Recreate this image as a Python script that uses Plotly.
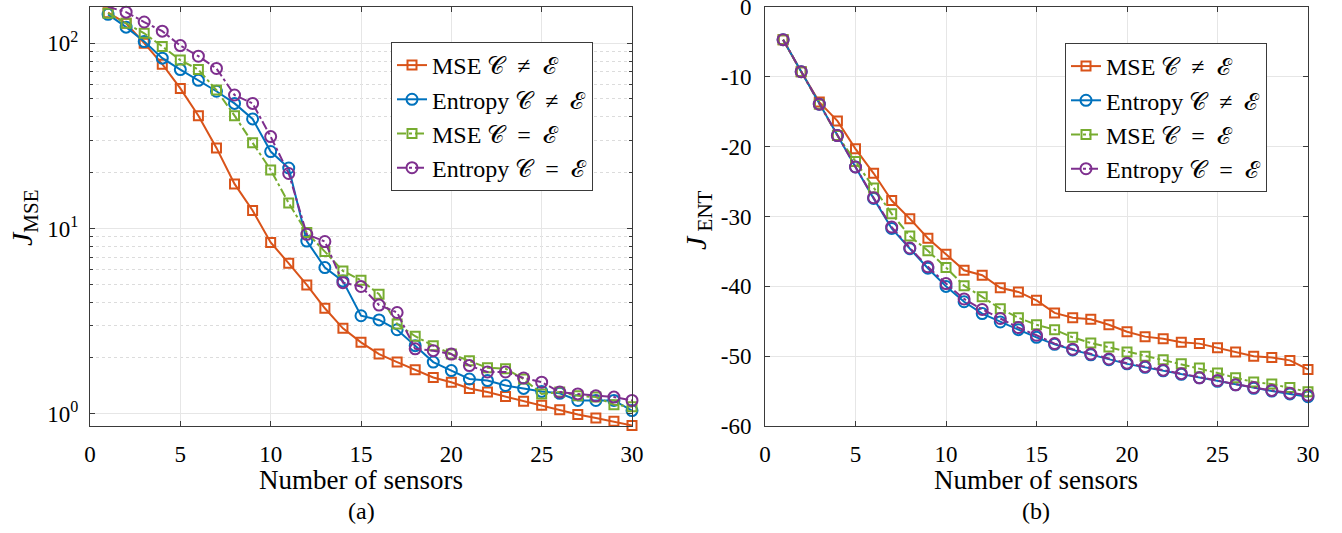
import plotly.graph_objects as go

n_sensors = list(range(1, 31))

# Left panel: J_MSE (log scale)
mse_neq = [146, 128, 100, 77, 57, 40.6, 27.2, 17.4, 12.5, 8.4, 6.48, 4.96, 3.71, 2.89, 2.43,
           2.10, 1.90, 1.73, 1.57, 1.48, 1.37, 1.31, 1.24, 1.17, 1.11, 1.05, 0.99, 0.95, 0.91, 0.865]
ent_neq = [143, 122, 102, 83, 72, 63, 55, 47.3, 39, 26, 21.2, 8.55, 6.15, 5.2, 3.38,
           3.21, 2.84, 2.33, 1.90, 1.71, 1.54, 1.51, 1.42, 1.37, 1.32, 1.29, 1.18, 1.18, 1.18, 1.04]
mse_eq = [145, 128, 113, 96, 81, 72, 55.8, 40.6, 29, 20.7, 13.7, 9.5, 7.5, 5.9, 5.25,
          4.42, 3.05, 2.62, 2.33, 2.10, 1.93, 1.77, 1.75, 1.54, 1.28, 1.31, 1.25, 1.23, 1.12, 1.09]
ent_eq = [157, 147, 130, 116, 97, 85, 73, 52.5, 47.3, 31.3, 19.8, 9.3, 8.5, 5.1, 4.86,
          3.86, 3.52, 2.24, 2.19, 2.10, 1.82, 1.68, 1.68, 1.56, 1.48, 1.31, 1.28, 1.25, 1.23, 1.18]

# Right panel: J_ENT
ent_mse_neq = [-4.66, -9.25, -13.6, -16.3, -20.3, -23.8, -27.7, -30.3, -33.1, -35.4, -37.7, -38.4, -40.2, -40.8, -42.0,
               -43.8, -44.5, -44.7, -45.5, -46.5, -47.2, -47.5, -48.0, -48.2, -48.8, -49.4, -50.0, -50.2, -50.6, -51.9]
ent_ent_neq = [-4.66, -9.25, -13.9, -18.4, -22.9, -27.4, -31.7, -34.6, -37.4, -40.0, -42.2, -43.9, -45.1, -46.2, -47.3,
               -48.3, -49.1, -49.8, -50.5, -51.1, -51.6, -52.1, -52.6, -53.1, -53.6, -54.1, -54.6, -55.0, -55.4, -55.8]
ent_mse_eq = [-4.66, -9.25, -13.9, -18.4, -22.1, -25.9, -29.6, -32.8, -34.9, -37.3, -39.9, -41.5, -43.2, -44.5, -45.5,
              -46.2, -47.3, -48.1, -48.7, -49.4, -50.0, -50.5, -51.1, -51.7, -52.4, -53.1, -53.7, -54.0, -54.5, -55.1]
ent_ent_eq = [-4.66, -9.25, -13.9, -18.4, -22.9, -27.3, -31.5, -34.5, -37.2, -39.6, -41.8, -43.3, -44.6, -45.9, -47.0,
              -48.2, -49.0, -49.7, -50.4, -51.0, -51.5, -52.0, -52.5, -53.1, -53.5, -54.1, -54.5, -54.9, -55.3, -55.6]

x_ticks = [0, 5, 10, 15, 20, 25, 30]
left_y_ticks = [1, 10, 100]
left_y_ticktext = ["10<sup>0</sup>", "10<sup>1</sup>", "10<sup>2</sup>"]
right_y_ticks = [0, -10, -20, -30, -40, -50, -60]
right_y_ticktext = ["0", "-10", "-20", "-30", "-40", "-50", "-60"]

C, E, SP = "\U0001D49E", "\u2130", "\u2002"
series_names = [f"MSE {C}{SP}\u2260{SP}{E}", f"Entropy {C}{SP}\u2260{SP}{E}",
                f"MSE {C}{SP}={SP}{E}", f"Entropy {C}{SP}={SP}{E}"]
colors = ["#D95319", "#0072BD", "#77AC30", "#7E2F8E"]
dashes = ["solid", "solid", "dashdot", "dashdot"]
symbols = ["square-open", "circle-open", "square-open", "circle-open"]
msizes = [9, 11, 9, 11]

FONT = "Liberation Serif"
fig = go.Figure()

left_data = [mse_neq, ent_neq, mse_eq, ent_eq]
right_data = [ent_mse_neq, ent_ent_neq, ent_mse_eq, ent_ent_eq]

for i in range(4):
    fig.add_trace(go.Scatter(
        x=n_sensors, y=left_data[i], name=series_names[i], mode="lines+markers", cliponaxis=False,
        line=dict(color=colors[i], width=2, dash=dashes[i]),
        marker=dict(symbol=symbols[i], size=msizes[i], color=colors[i], line=dict(width=2, color=colors[i])),
        xaxis="x", yaxis="y", legend="legend"))
for i in range(4):
    fig.add_trace(go.Scatter(
        x=n_sensors, y=right_data[i], name=series_names[i], mode="lines+markers", cliponaxis=False,
        line=dict(color=colors[i], width=2, dash=dashes[i]),
        marker=dict(symbol=symbols[i], size=msizes[i], color=colors[i], line=dict(width=2, color=colors[i])),
        xaxis="x2", yaxis="y2", legend="legend2"))

axcommon = dict(showline=True, linecolor="#3a3a3a", linewidth=1, mirror="ticks", ticks="inside",
                tickcolor="#3a3a3a", ticklen=5, gridcolor="#e6e6e6", gridwidth=1, zeroline=False,
                automargin=False, ticklabeloverflow="allow",
                tickfont=dict(family=FONT, size=23, color="#000"))

ydom = [1 - 426/533, 1 - 7/533]
legend_common = dict(xanchor="left", yanchor="top", bgcolor="white", bordercolor="#3a3a3a",
                     borderwidth=1, font=dict(family=FONT, size=24), tracegroupgap=0, itemwidth=30)
fig.update_layout(
    template="none",
    width=1342, height=533, margin=dict(l=0, r=0, t=0, b=0, pad=0),
    paper_bgcolor="white", plot_bgcolor="white",
    font=dict(family=FONT, color="#000"),
    xaxis=dict(domain=[90/1342, 632/1342], range=[0, 30], tickvals=x_ticks,
               anchor="y", ticklabelstandoff=7, **axcommon),
    yaxis=dict(domain=ydom, type="log", range=[-0.066, 2.195], tickvals=left_y_ticks,
               ticktext=left_y_ticktext, anchor="x", ticklabelstandoff=6,
               minor=dict(tickvals=[2, 3, 4, 5, 6, 7, 8, 9, 20, 30, 40, 50, 60, 70, 80, 90],
                          ticks="inside", ticklen=3, tickcolor="#3a3a3a",
                          showgrid=True, gridcolor="#dcdcdc", griddash="dot"),
               **axcommon),
    xaxis2=dict(domain=[765/1342, 1308/1342], range=[0, 30], tickvals=x_ticks,
                anchor="y2", ticklabelstandoff=7, **axcommon),
    yaxis2=dict(domain=ydom, range=[-60, 0.02], tickvals=right_y_ticks, ticktext=right_y_ticktext,
                anchor="x2", ticklabelstandoff=8, **axcommon),
    legend=dict(x=391/1342, y=1-42/533, **legend_common),
    legend2=dict(x=1065/1342, y=1-43/533, **legend_common),
    showlegend=True,
)

ann_common = dict(xref="paper", yref="paper", showarrow=False, xanchor="center", yanchor="middle")
ann = [
    dict(text="Number of sensors", x=361/1342, y=1-480/533, font=dict(family=FONT, size=27), **ann_common),
    dict(text="Number of sensors", x=1036/1342, y=1-480/533, font=dict(family=FONT, size=27), **ann_common),
    dict(text="(a)", x=361/1342, y=1-511/533, font=dict(family=FONT, size=24), **ann_common),
    dict(text="(b)", x=1036/1342, y=1-511/533, font=dict(family=FONT, size=24), **ann_common),
    dict(text="<i>J</i><sub>MSE</sub>", x=24/1342, y=1-218/533, textangle=-90,
         font=dict(family=FONT, size=30), **ann_common),
    dict(text="<i>J</i><sub> ENT</sub>", x=698/1342, y=1-220/533, textangle=-90,
         font=dict(family=FONT, size=30), **ann_common),
]
fig.update_layout(annotations=ann)

fig.write_html("out.html", config={"displayModeBar": False},
               post_script="document.body.style.margin='0';document.body.style.overflow='hidden';")
